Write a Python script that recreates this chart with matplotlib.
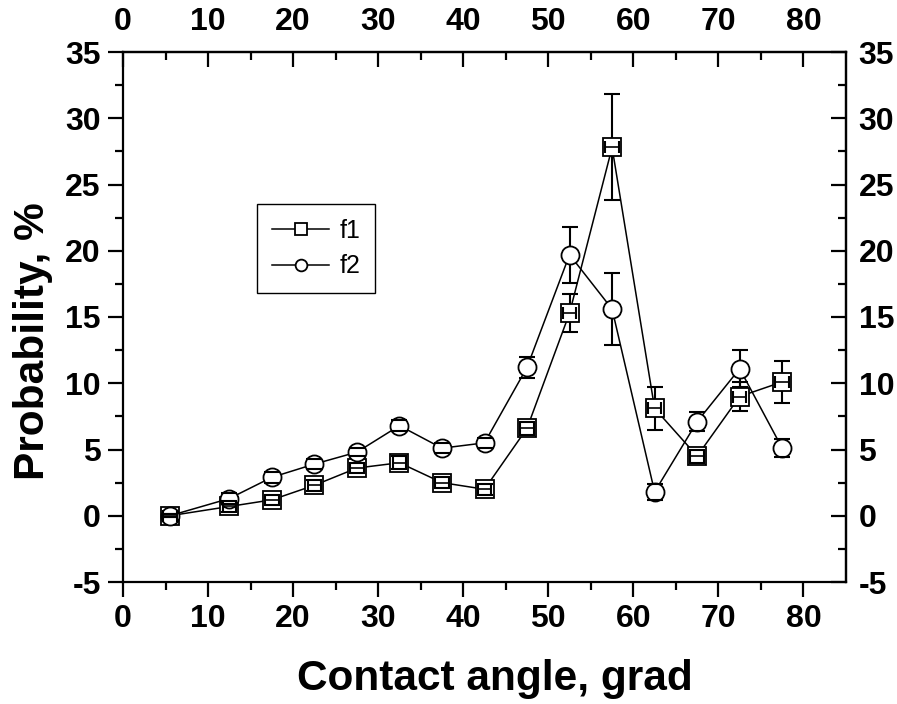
import numpy as np
import matplotlib
matplotlib.use("Agg")
import matplotlib.pyplot as plt
from matplotlib.font_manager import FontProperties

plt.rcParams['font.family'] = ['Liberation Sans', 'DejaVu Sans']
plt.rcParams['axes.unicode_minus'] = False

# contact angle bins (grad)
angle = [5.5, 12.5, 17.5, 22.5, 27.5, 32.5, 37.5, 42.5, 47.5, 52.5, 57.5, 62.5, 67.5, 72.5, 77.5]

# probability, %
f1 = [0.0, 0.7, 1.2, 2.3, 3.6, 4.0, 2.5, 2.0, 6.6, 15.3, 27.8, 8.1, 4.5, 9.0, 10.1]
f1_err = [0.1, 0.4, 0.4, 0.4, 0.4, 0.5, 0.4, 0.4, 0.5, 1.4, 4.0, 1.6, 0.5, 1.1, 1.6]
f1_xerr = [0.8] * 15
f2 = [0.0, 1.3, 2.9, 3.9, 4.8, 6.8, 5.1, 5.5, 11.2, 19.7, 15.6, 1.8, 7.1, 11.1, 5.1]
f2_err = [0.1, 0.4, 0.4, 0.4, 0.3, 0.4, 0.4, 0.4, 0.8, 2.1, 2.7, 0.6, 0.7, 1.4, 0.7]

x_ticks = [0, 10, 20, 30, 40, 50, 60, 70, 80]
y_ticks = [-5, 0, 5, 10, 15, 20, 25, 30, 35]

fig = plt.figure(figsize=(8.97, 7.04), dpi=100)
ax = fig.add_axes([123 / 897, 1 - 582 / 704, 723 / 897, 530 / 704])


def draw_series(y, yerr, marker, xerr=None):
    # error bars: stems under the marker, caps on top of it
    eb = ax.errorbar(angle, y, yerr=yerr, fmt='none', ecolor='black',
                     elinewidth=1.5, capsize=6, capthick=1.5)
    for c in eb[1]:
        c.set_zorder(4)
    for b in eb[2]:
        b.set_zorder(1)
    if xerr is not None:
        ebx = ax.errorbar(angle, y, xerr=xerr, fmt='none', ecolor='black',
                          elinewidth=1.2, capsize=4, capthick=1.5)
        for c in ebx[1]:
            c.set_zorder(4)
        for b in ebx[2]:
            b.set_zorder(4)
    line, = ax.plot(angle, y, color='black', lw=1.1, marker=marker, ms=13,
                    mfc='white', mec='black', mew=1.3, zorder=3)
    return line


l1 = draw_series(f1, f1_err, 's', xerr=f1_xerr)
l2 = draw_series(f2, f2_err, 'o')

ax.set_xlim(0, 85)
ax.set_ylim(-5, 35)
ax.set_xticks(x_ticks)
ax.set_yticks(y_ticks)
ax.set_xticks(np.arange(5, 85, 10), minor=True)
ax.set_yticks(np.arange(-2.5, 35, 5), minor=True)

for s in ax.spines.values():
    s.set_linewidth(1.6)

tick_fp = FontProperties(family='Liberation Sans', weight='bold', size=23)
ax.tick_params(which='major', direction='out', length=11, width=1.6, pad=5)
ax.tick_params(which='minor', direction='out', length=6, width=1.6)
for lab in ax.get_xticklabels() + ax.get_yticklabels():
    lab.set_fontproperties(tick_fp)

# top and right axes with inward ticks
top = ax.secondary_xaxis('top')
top.set_xticks(x_ticks)
top.set_xticks(np.arange(5, 85, 10), minor=True)
top.tick_params(which='major', direction='in', length=11, width=1.6, pad=11)
top.tick_params(which='minor', direction='in', length=6, width=1.6)
top.spines['top'].set_linewidth(1.6)
for lab in top.get_xticklabels():
    lab.set_fontproperties(tick_fp)

right = ax.secondary_yaxis('right')
right.set_yticks(y_ticks)
right.set_yticks(np.arange(-2.5, 35, 5), minor=True)
right.tick_params(which='major', direction='in', length=11, width=1.6, pad=9)
right.tick_params(which='minor', direction='in', length=6, width=1.6)
right.spines['right'].set_linewidth(1.6)
for lab in right.get_yticklabels():
    lab.set_fontproperties(tick_fp)

ax.set_xlabel('Contact angle, grad', fontsize=30.5, fontweight='bold', labelpad=17.5)
ax.set_ylabel('Probability, %', fontsize=30.5, fontweight='bold', labelpad=8.5)
ax.xaxis.label.set_x(0.514)
ax.yaxis.label.set_y(0.455)

leg = ax.legend([l1, l2], ['f1', 'f2'], loc='upper left',
                bbox_to_anchor=(0.185, 0.713), borderaxespad=0,
                fontsize=18, markerscale=0.65, handlelength=2.3,
                handletextpad=0.4, frameon=True, fancybox=False,
                edgecolor='black', framealpha=1, borderpad=0.6,
                labelspacing=0.45)
leg.get_frame().set_linewidth(1.0)

fig.savefig('out.png', dpi=100)
